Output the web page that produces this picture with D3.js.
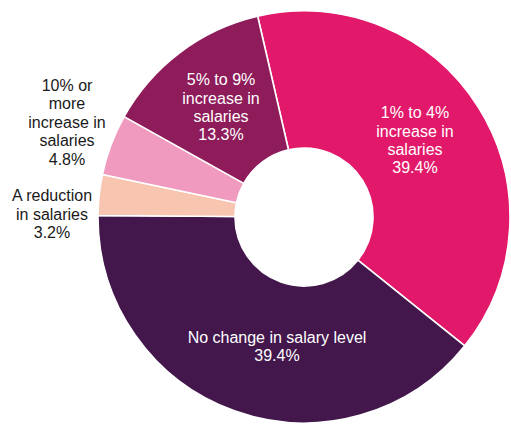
<!DOCTYPE html>
<html>
<head>
<meta charset="utf-8">
<script src="https://cdn.jsdelivr.net/npm/d3@7"></script>
<style>
  html, body { margin: 0; padding: 0; background: #fff; }
  svg { display: block; }
</style>
</head>
<body>
<svg id="chart" width="511" height="425"></svg>
<script>
// Survey answers: expected change in salaries
const categories = [
  "1% to 4% increase in salaries",
  "No change in salary level",
  "A reduction in salaries",
  "10% or more increase in salaries",
  "5% to 9% increase in salaries"
];
const shares = [39.4, 39.4, 3.2, 4.8, 13.3];
const valueLabels = ["39.4%", "39.4%", "3.2%", "4.8%", "13.3%"];
// Label text broken into the lines shown on the chart
const labelLines = [
  ["1% to 4%", "increase in", "salaries"],
  ["No change in salary level"],
  ["A reduction", "in salaries"],
  ["10% or", "more", "increase in", "salaries"],
  ["5% to 9%", "increase in", "salaries"]
];

const colors = ["#e2196a", "#43164c", "#f8c6b0", "#f09abf", "#8e1c5a"];
// Label block centres, relative to the ring centre
const labelCentres = [[111, -77], [-27, 129], [-252, -3], [-237, -95], [-83, -110]];
const labelColors = ["#fff", "#fff", "#1a1a1a", "#1a1a1a", "#fff"];

const cx = 304, cy = 217, outerR = 206, innerR = 69;
const startDeg = -13;

const svg = d3.select("#chart");
const g = svg.append("g").attr("transform", `translate(${cx},${cy})`);

const pie = d3.pie()
  .sort(null)
  .value(d => d)
  .startAngle(startDeg * Math.PI / 180)
  .endAngle((startDeg + 360) * Math.PI / 180);

const arc = d3.arc().innerRadius(innerR).outerRadius(outerR);
const arcs = pie(shares);

g.selectAll("path.slice")
  .data(arcs)
  .join("path")
  .attr("class", "slice")
  .attr("d", arc)
  .attr("fill", (d, i) => colors[i])
  .attr("stroke", "#fff")
  .attr("stroke-width", 1.6)
  .attr("stroke-linejoin", "round");

const lineH = 18.4;
const labels = g.selectAll("text.label")
  .data(arcs)
  .join("text")
  .attr("class", "label")
  .attr("text-anchor", "middle")
  .attr("font-family", "Liberation Sans, Arial, sans-serif")
  .attr("font-size", 16)
  .attr("fill", (d, i) => labelColors[i]);

labels.each(function (d, i) {
  const lines = labelLines[i].concat([valueLabels[i]]);
  const [x, y] = labelCentres[i];
  const top = y - (lines.length - 1) * lineH / 2 + 5.7;
  d3.select(this).selectAll("tspan")
    .data(lines)
    .join("tspan")
    .attr("x", x)
    .attr("y", (t, k) => top + k * lineH)
    .text(t => t);
});
</script>
</body>
</html>
